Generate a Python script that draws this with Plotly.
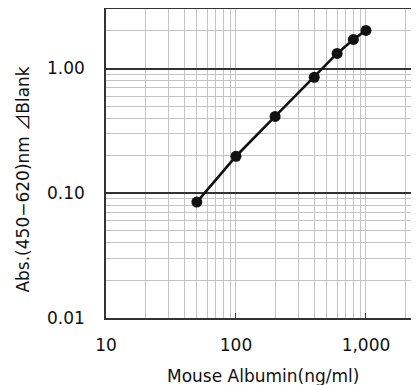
import plotly.graph_objects as go

# Standard curve
conc = [50, 100, 200, 400, 600, 800, 1000]
absorb = [0.085, 0.198, 0.413, 0.85, 1.32, 1.71, 2.02]

x_major = [10, 100, 1000]
x_major_text = ["10", "100", "1,000"]
y_major = [0.01, 0.1, 1]
y_major_text = ["0.01", "0.10", "1.00"]

x_minor = [m * d for d in (10, 100, 1000) for m in range(2, 10)]
y_minor = [m * d for d in (0.01, 0.1, 1) for m in range(2, 10)]

x_title = "Mouse Albumin(ng/ml)"
y_title = "Abs.(450−620)nm <span style=\"font-family:'Noto Sans CJK JP'\">⊿</span>Blank"

FONT = "DejaVu Sans"
GRID = "#c4c4c4"
DARK = "#333333"

fig = go.Figure()
fig.add_trace(go.Scatter(
    x=conc, y=absorb,
    mode="lines+markers",
    line=dict(color="#111111", width=2.6),
    marker=dict(size=11, color="#111111"),
    showlegend=False,
))

# axis titles as annotations so they can sit where the original has them
fig.add_annotation(
    text=y_title, textangle=-90,
    xref="paper", yref="paper", x=0, y=0.448,
    xanchor="center", yanchor="middle", xshift=-84,
    showarrow=False, font=dict(family=FONT, size=17, color="#111111"),
)
fig.add_annotation(
    text=x_title,
    xref="paper", yref="paper", x=0.5, y=0,
    xanchor="center", yanchor="middle", yshift=-58,
    showarrow=False, font=dict(family=FONT, size=17, color="#111111"),
)

fig.update_layout(
    width=411, height=377,
    margin=dict(l=98, r=0, t=1, b=67),
    plot_bgcolor="white",
    paper_bgcolor="white",
    font=dict(family=FONT, size=17, color="#111111"),
    xaxis=dict(
        type="log",
        range=[1, 3.408],
        tickmode="array", tickvals=x_major, ticktext=x_major_text,
        showgrid=True, gridcolor=GRID, gridwidth=1,
        minor=dict(tickmode="array", tickvals=x_minor,
                   showgrid=True, gridcolor=GRID, gridwidth=1, ticks=""),
        ticks="inside", ticklen=5, tickcolor=DARK, tickwidth=1,
        ticklabelstandoff=11,
        showline=True, linecolor=DARK, linewidth=1.5, mirror=True,
        zeroline=False,
    ),
    yaxis=dict(
        type="log",
        range=[-2, 0.477],
        tickmode="array", tickvals=y_major, ticktext=y_major_text,
        showgrid=True, gridcolor=DARK, gridwidth=1.5,
        minor=dict(tickmode="array", tickvals=y_minor,
                   showgrid=True, gridcolor=GRID, gridwidth=1, ticks=""),
        ticks="", ticklabelstandoff=16,
        showline=True, linecolor=DARK, linewidth=1.5, mirror=False,
        zeroline=False,
    ),
)

fig.write_html("out.html")
